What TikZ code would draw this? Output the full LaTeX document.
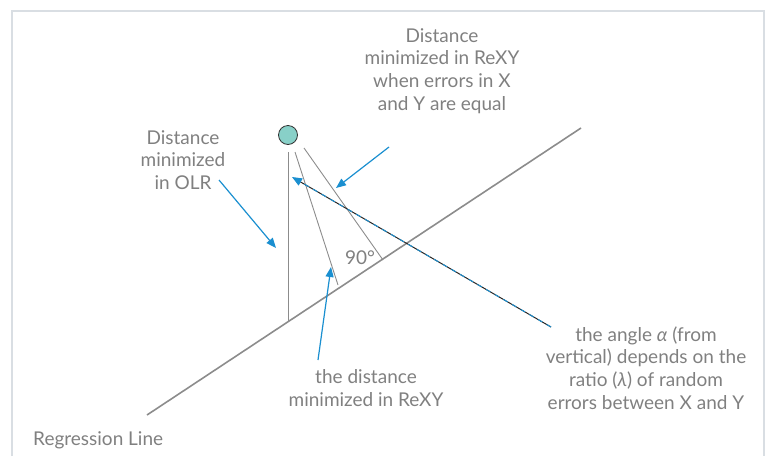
\documentclass[tikz,border=0pt]{standalone}
\usepackage{fontspec}
\setmainfont{Lato}
\usetikzlibrary{arrows.meta}
\definecolor{txtgrey}{HTML}{808080}
\definecolor{linegrey}{HTML}{8C8C8C}
\definecolor{pointerblue}{HTML}{1A8FD0}
\definecolor{pointfill}{HTML}{88D0C8}
\definecolor{framegrey}{HTML}{D9DEE3}

\begin{document}
\begin{tikzpicture}[x=1pt,y=-1pt,
  caption/.style={text=txtgrey, font=\fontsize{19}{22.8}\selectfont, align=center, inner sep=0pt},
  guide/.style={draw=linegrey, line width=0.9pt},
  pointer/.style={draw=pointerblue, line width=1.2pt, -{Triangle[length=10pt,width=8pt]}}
]
  \useasboundingbox (0,0) rectangle (768,456);
  % frame
  \draw[framegrey, line width=1.5pt] (12,456) -- (12,11) -- (764,11) -- (764,456);

  % regression line and data point
  \coordinate (regA) at (147,415);
  \coordinate (regB) at (581,128);
  \draw[linegrey, line width=1.6pt] (regA) -- (regB);
  \node[circle, draw=black!80, fill=pointfill, line width=0.8pt, minimum size=19pt, inner sep=0pt] (pt) at (288,135) {};

  % distances
  \coordinate (olrTop) at (288,152);
  \coordinate (olrEnd) at (288,321);
  \coordinate (rexyTop) at (295,152);
  \coordinate (rexyEnd) at (338,285);
  \coordinate (perpTop) at (304,148);
  \coordinate (perpEnd) at (383,260);
  \draw[guide] (olrTop) -- (olrEnd);
  \draw[guide] (rexyTop) -- (rexyEnd);
  \draw[guide] (perpTop) -- (perpEnd);
  \node[caption] (right) at (360,258) {90°};

  % labels
  \node[caption] (equal) at (442,71) {Distance\\minimized in ReXY\\when errors in X\\and Y are equal};
  \node[caption] (olr) at (183,160) {Distance\\minimized\\in OLR};
  \node[caption] (rexy) at (366,388) {the distance\\minimized in ReXY};
  \node[caption] (alpha) at (646,368) {the angle \textit{α} (from\\vertical) depends on the\\ratio (\textit{λ}) of random\\errors between X and Y};
  \node[caption, anchor=west] (regline) at (33,440) {Regression Line};

  % pointers
  \coordinate (olrFrom) at (219,180);
  \coordinate (olrTo) at (276,248);
  \coordinate (equalFrom) at (389,147);
  \coordinate (equalTo) at (336,188);
  \coordinate (rexyFrom) at (318,360);
  \coordinate (rexyTo) at (331,267);
  \coordinate (alphaFrom) at (551,327);
  \coordinate (alphaTo) at (292,177);
  \draw[pointer] (olrFrom) -- (olrTo);
  \draw[pointer] (equalFrom) -- (equalTo);
  \draw[pointer] (rexyFrom) -- (rexyTo);
  \draw[black!85, line width=1pt, shorten >=6pt] (alphaFrom) -- (alphaTo);
  \draw[pointer, line width=1pt, dash pattern=on 5pt off 5pt] (alphaFrom) -- (alphaTo);
\end{tikzpicture}
\end{document}
